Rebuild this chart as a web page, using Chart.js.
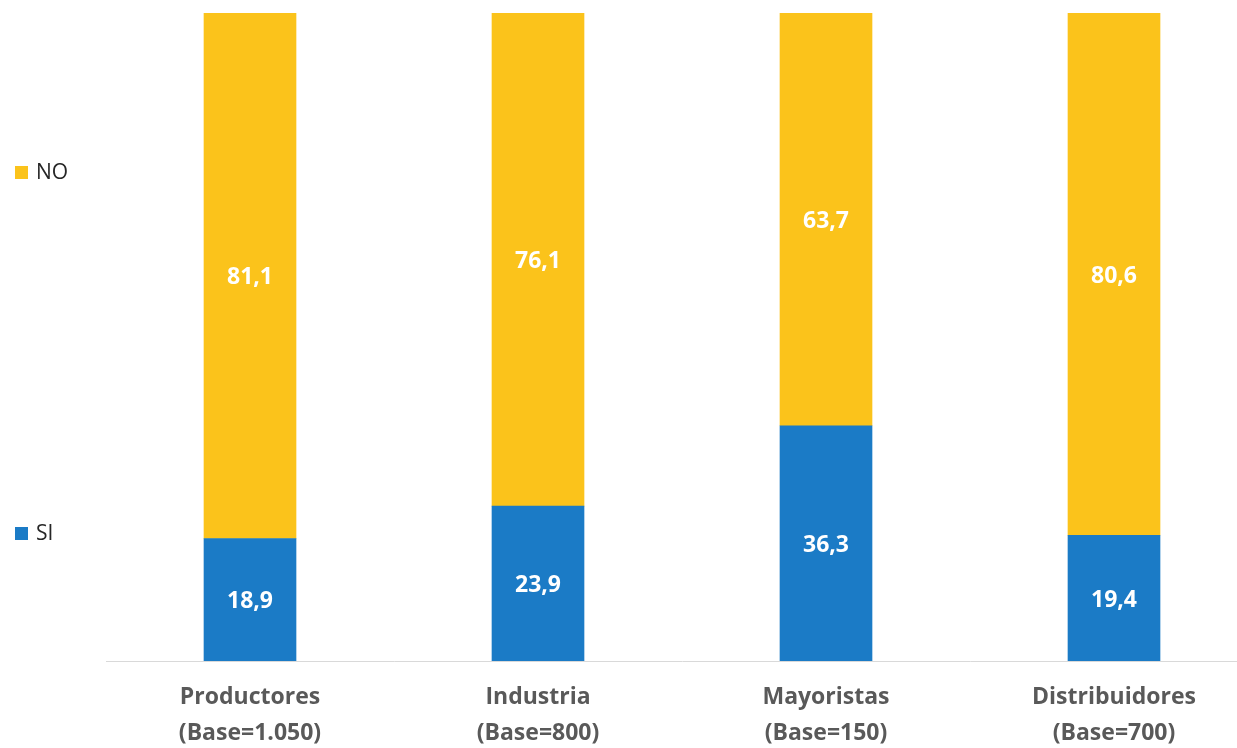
<!DOCTYPE html>
<html>
<head>
<meta charset="utf-8">
<script src="https://cdn.jsdelivr.net/npm/chart.js@4.4.1/dist/chart.umd.min.js"></script>
<style>
  html, body { margin: 0; padding: 0; background: #fff; overflow: hidden; }
  #wrap { position: relative; width: 1258px; height: 748px; }
</style>
</head>
<body>
<div id="wrap"><canvas id="chart"></canvas></div>
<script>
// categorías y valores (%)
const categorias = [
  ['Productores', '(Base=1.050)'],
  ['Industria', '(Base=800)'],
  ['Mayoristas', '(Base=150)'],
  ['Distribuidores', '(Base=700)'],
];
const valoresSI = [18.9, 23.9, 36.3, 19.4];
const valoresNO = [81.1, 76.1, 63.7, 80.6];
const etiquetasSerie = ['SI', 'NO'];

const AZUL = '#1B7BC6';
const AMARILLO = '#FBC31B';
const FUENTE = "'Open Sans', 'Noto Sans', sans-serif";

// etiquetas blancas dentro de cada segmento
const valorLabels = {
  id: 'valorLabels',
  afterDatasetsDraw(chart) {
    const ctx = chart.ctx;
    ctx.save();
    ctx.fillStyle = '#fff';
    ctx.font = `bold 23px ${FUENTE}`;
    ctx.textAlign = 'center';
    ctx.textBaseline = 'middle';
    chart.data.datasets.forEach((ds, di) => {
      chart.getDatasetMeta(di).data.forEach((bar, i) => {
        const y = (bar.y + bar.base) / 2 + 2;
        ctx.fillText(ds.data[i].toFixed(1).replace('.', ','), bar.x, y);
      });
    });
    ctx.restore();
  }
};

// leyenda a la izquierda
const leyendaIzq = {
  id: 'leyendaIzq',
  afterDraw(chart) {
    const ctx = chart.ctx;
    const pos = { NO: 172, SI: 533 };
    ctx.save();
    ctx.font = `21px ${FUENTE}`;
    ctx.textBaseline = 'middle';
    chart.data.datasets.forEach(ds => {
      const y = pos[ds.label];
      ctx.fillStyle = ds.backgroundColor;
      ctx.fillRect(15, y - 6, 13, 13);
      ctx.fillStyle = '#262626';
      ctx.fillText(ds.label, 36, y + 1);
    });
    ctx.restore();
  }
};

new Chart(document.getElementById('chart'), {
  type: 'bar',
  data: {
    labels: categorias,
    datasets: [
      { label: etiquetasSerie[0], data: valoresSI, backgroundColor: AZUL, borderWidth: 0 },
      { label: etiquetasSerie[1], data: valoresNO, backgroundColor: AMARILLO, borderWidth: 0 },
    ],
  },
  options: {
    responsive: true,
    maintainAspectRatio: false,
    animation: false,
    layout: { padding: { top: 13, left: 106, right: 0, bottom: 0 } },
    barThickness: 92,
    plugins: { legend: { display: false }, tooltip: { enabled: false } },
    scales: {
      x: {
        stacked: true,
        grid: { display: false, drawTicks: false },
        border: { display: true, color: '#D9D9D9', width: 1 },
        ticks: {
          color: '#595959',
          font: { family: FUENTE, size: 23, weight: 'bold', lineHeight: 1.57 },
          padding: 18,
          maxRotation: 0,
        },
        afterFit(scale) { scale.height = 87; },
      },
      y: {
        stacked: true,
        display: false,
        min: 0,
        max: 100,
      },
    },
  },
  plugins: [valorLabels, leyendaIzq],
});
</script>
</body>
</html>
